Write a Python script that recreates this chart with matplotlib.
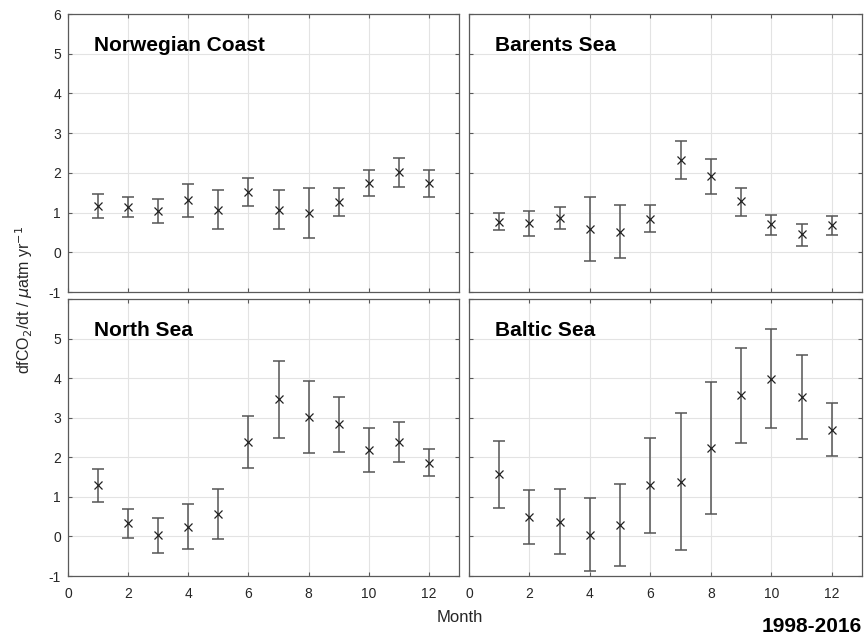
import numpy as np
import matplotlib
matplotlib.use('Agg')
import matplotlib.pyplot as plt

plt.rcParams['font.family'] = ['Liberation Sans', 'DejaVu Sans']
plt.rcParams['axes.unicode_minus'] = False

months = np.arange(1, 13)

# 各区域: 均值, 误差上界, 误差下界
nor_mean = [1.17, 1.14, 1.05, 1.31, 1.07, 1.51, 1.07, 0.99, 1.27, 1.75, 2.01, 1.74]
nor_hi = [1.47, 1.40, 1.34, 1.71, 1.56, 1.86, 1.58, 1.62, 1.63, 2.08, 2.38, 2.07]
nor_lo = [0.86, 0.88, 0.74, 0.90, 0.59, 1.17, 0.59, 0.37, 0.91, 1.42, 1.64, 1.39]

bar_mean = [0.76, 0.73, 0.87, 0.58, 0.52, 0.85, 2.33, 1.91, 1.28, 0.71, 0.45, 0.69]
bar_hi = [0.98, 1.04, 1.15, 1.39, 1.19, 1.19, 2.81, 2.34, 1.61, 0.95, 0.71, 0.92]
bar_lo = [0.55, 0.40, 0.59, -0.23, -0.15, 0.50, 1.85, 1.47, 0.92, 0.44, 0.17, 0.44]

ns_mean = [1.29, 0.34, 0.03, 0.25, 0.57, 2.38, 3.47, 3.03, 2.83, 2.18, 2.39, 1.86]
ns_hi = [1.71, 0.69, 0.47, 0.82, 1.20, 3.04, 4.44, 3.94, 3.52, 2.73, 2.90, 2.20]
ns_lo = [0.87, -0.03, -0.42, -0.31, -0.06, 1.73, 2.50, 2.12, 2.13, 1.62, 1.89, 1.52]

bal_mean = [1.58, 0.49, 0.37, 0.04, 0.29, 1.30, 1.38, 2.24, 3.57, 3.97, 3.52, 2.69]
bal_hi = [2.42, 1.17, 1.19, 0.97, 1.33, 2.50, 3.11, 3.91, 4.77, 5.23, 4.59, 3.38]
bal_lo = [0.72, -0.18, -0.45, -0.87, -0.75, 0.08, -0.34, 0.56, 2.37, 2.73, 2.47, 2.02]

names = ['Norwegian Coast', 'Barents Sea', 'North Sea', 'Baltic Sea']
data = [(nor_mean, nor_hi, nor_lo), (bar_mean, bar_hi, bar_lo),
        (ns_mean, ns_hi, ns_lo), (bal_mean, bal_hi, bal_lo)]

W, H = 866, 634
fig = plt.figure(figsize=(W / 100, H / 100), dpi=100)

# 面板像素位置 [left, top, width, height]
boxes = [(68, 14, 391, 278), (469, 14, 393, 278),
         (68, 299, 391, 277), (469, 299, 393, 277)]

frame_col = '#5a5a5a'
text_col = '#262626'

for i, (name, (m, hi, lo), (l, t, w, h)) in enumerate(zip(names, data, boxes)):
    ax = fig.add_axes([l / W, 1 - (t + h) / H, w / W, h / H])
    m = np.array(m)
    yerr = [m - np.array(lo), np.array(hi) - m]
    ax.errorbar(months, m, yerr=yerr, fmt='none', ecolor='#555555',
                elinewidth=1.1, capsize=4, capthick=1.1, zorder=3)
    ax.plot(months, m, 'x', color='#222222', ms=5.5, mew=0.9, zorder=4)

    ax.set_xlim(0, 13)
    ax.set_ylim(-1, 6)
    ax.set_xticks(np.arange(0, 13, 2))
    ax.set_yticks(np.arange(-1, 7, 1))
    ax.grid(True, color='#e3e3e3', linewidth=0.8)
    ax.set_axisbelow(True)
    ax.tick_params(direction='in', top=True, right=True, length=3,
                   color=frame_col, labelsize=10, labelcolor=text_col)
    ax.tick_params(axis='x', pad=8)
    ax.tick_params(axis='y', pad=5)
    for s in ax.spines.values():
        s.set_color(frame_col)
        s.set_linewidth(0.9)

    if i < 2:
        ax.tick_params(labelbottom=False)
    if i % 2 == 1:
        ax.tick_params(labelleft=False)
    if i == 2:
        # 下方面板不显示顶部的 6
        ax.set_yticklabels([str(v) for v in range(-1, 6)] + [''])

    ax.text(0.067, 0.888 if i < 2 else 0.885, name, transform=ax.transAxes,
            fontsize=15, fontweight='bold', va='center', ha='left', color='black')

fig.text(24 / W, 1 - 300 / H, r'dfCO$_2$/dt / $\mu$atm yr$^{-1}$', rotation=90,
         ha='center', va='center', fontsize=11.5, color=text_col)
fig.text(460 / W, 1 - 617 / H, 'Month', ha='center', va='center',
         fontsize=12, color=text_col)
fig.text(862 / W, 1 - 626 / H, '1998-2016', ha='right', va='center',
         fontsize=15, fontweight='bold', color='black')

fig.savefig('out.png', dpi=100)
